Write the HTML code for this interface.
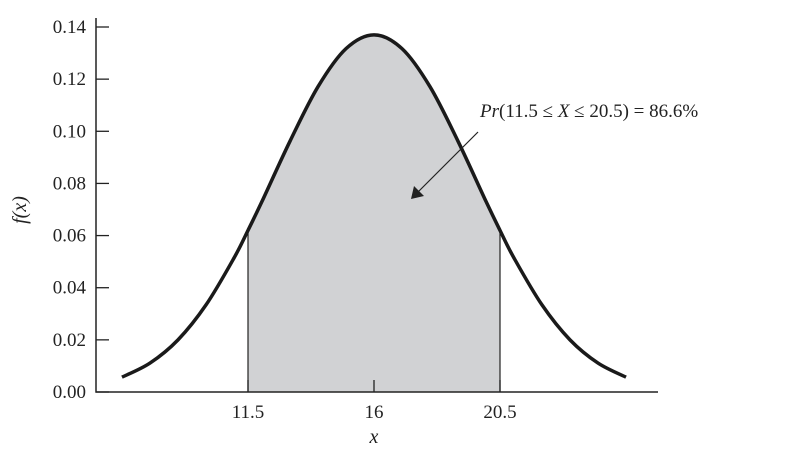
<!DOCTYPE html>
<html><head><meta charset="utf-8"><style>
body{margin:0;background:#fff}
text{font-family:"Liberation Serif",serif;fill:#222}
</style></head><body>
<svg id="c" width="790" height="448" xmlns="http://www.w3.org/2000/svg"></svg>
<script>
const xs=[7,8,9,10,11,11.5,12,13,14,15,16,17,18,19,20,20.5,21,22,23,24,25];
const ys=[0.0057,0.0111,0.0200,0.0334,0.0514,0.062,0.0731,0.0962,0.1171,0.1317,0.137,0.1317,0.1171,0.0962,0.0731,0.062,0.0514,0.0334,0.0200,0.0111,0.0057];
const yTicks=["0.00","0.02","0.04","0.06","0.08","0.10","0.12","0.14"];
const xTicks=[11.5,16,20.5];
const shadeFrom=11.5, shadeTo=20.5;
const svg=document.getElementById('c');const NS="http://www.w3.org/2000/svg";
const X=v=>374+(v-16)*28, Y=v=>392-v*(365/0.14);
function el(t,a){const e=document.createElementNS(NS,t);for(const k in a)e.setAttribute(k,a[k]);svg.appendChild(e);return e;}
function path(px){let d="M"+px[0][0]+","+px[0][1];for(let i=0;i<px.length-1;i++){const p0=px[Math.max(i-1,0)],p1=px[i],p2=px[i+1],p3=px[Math.min(i+2,px.length-1)];
d+=" C"+(p1[0]+(p2[0]-p0[0])/6)+","+(p1[1]+(p2[1]-p0[1])/6)+" "+(p2[0]-(p3[0]-p1[0])/6)+","+(p2[1]-(p3[1]-p1[1])/6)+" "+p2[0]+","+p2[1];}return d;}
const all=xs.map((x,i)=>[X(x),Y(ys[i])]);
const sp=xs.map((x,i)=>[x,ys[i]]).filter(p=>p[0]>=shadeFrom&&p[0]<=shadeTo).map(p=>[X(p[0]),Y(p[1])]);
let sh=el('path',{d:path(sp)+" L"+X(shadeTo)+","+Y(0)+" L"+X(shadeFrom)+","+Y(0)+"Z",fill:"#d1d2d4",stroke:"none"});


[shadeFrom,shadeTo].forEach(v=>{const l=el('line',{x1:X(v),x2:X(v),y1:Y(0),y2:Y(ys[xs.indexOf(v)]),stroke:"#222","stroke-width":1.2});

});
let cv=el('path',{d:path(all),fill:"none",stroke:"#1a1a1a","stroke-width":3.5});


let ax=el('path',{d:"M96,18 V392 H658",fill:"none",stroke:"#222","stroke-width":1.5});


yTicks.forEach(t=>{const y=Y(parseFloat(t));el('line',{x1:96,x2:109,y1:y,y2:y,stroke:"#222","stroke-width":1.3});
const tx=el('text',{x:86,y:y+6,"text-anchor":"end","font-size":19});tx.textContent=t;

});
xTicks.forEach(v=>{el('line',{x1:X(v),x2:X(v),y1:392,y2:380,stroke:"#222","stroke-width":1.3});
const tx=el('text',{x:X(v),y:418,"text-anchor":"middle","font-size":19});tx.textContent=v;

});
let xl=el('text',{x:374,y:443,"text-anchor":"middle","font-size":20,"font-style":"italic"});xl.textContent="x";


let yl=el('text',{x:0,y:0,"text-anchor":"middle","font-size":20,"font-style":"italic",transform:"translate(26,210) rotate(-90)"});yl.textContent="f(x)";


let an=el('text',{x:480,y:117,"font-size":19});
an.innerHTML='<tspan font-style="italic">Pr</tspan>(11.5 \u2264 <tspan font-style="italic">X</tspan> \u2264 20.5) = 86.6%';


let ar=el('line',{x1:478,y1:132,x2:416,y2:194,stroke:"#222","stroke-width":1.2});


let ah=el('path',{d:"M411,199 L414,186 L424,196 Z",fill:"#222"});


</script>
</body></html>
